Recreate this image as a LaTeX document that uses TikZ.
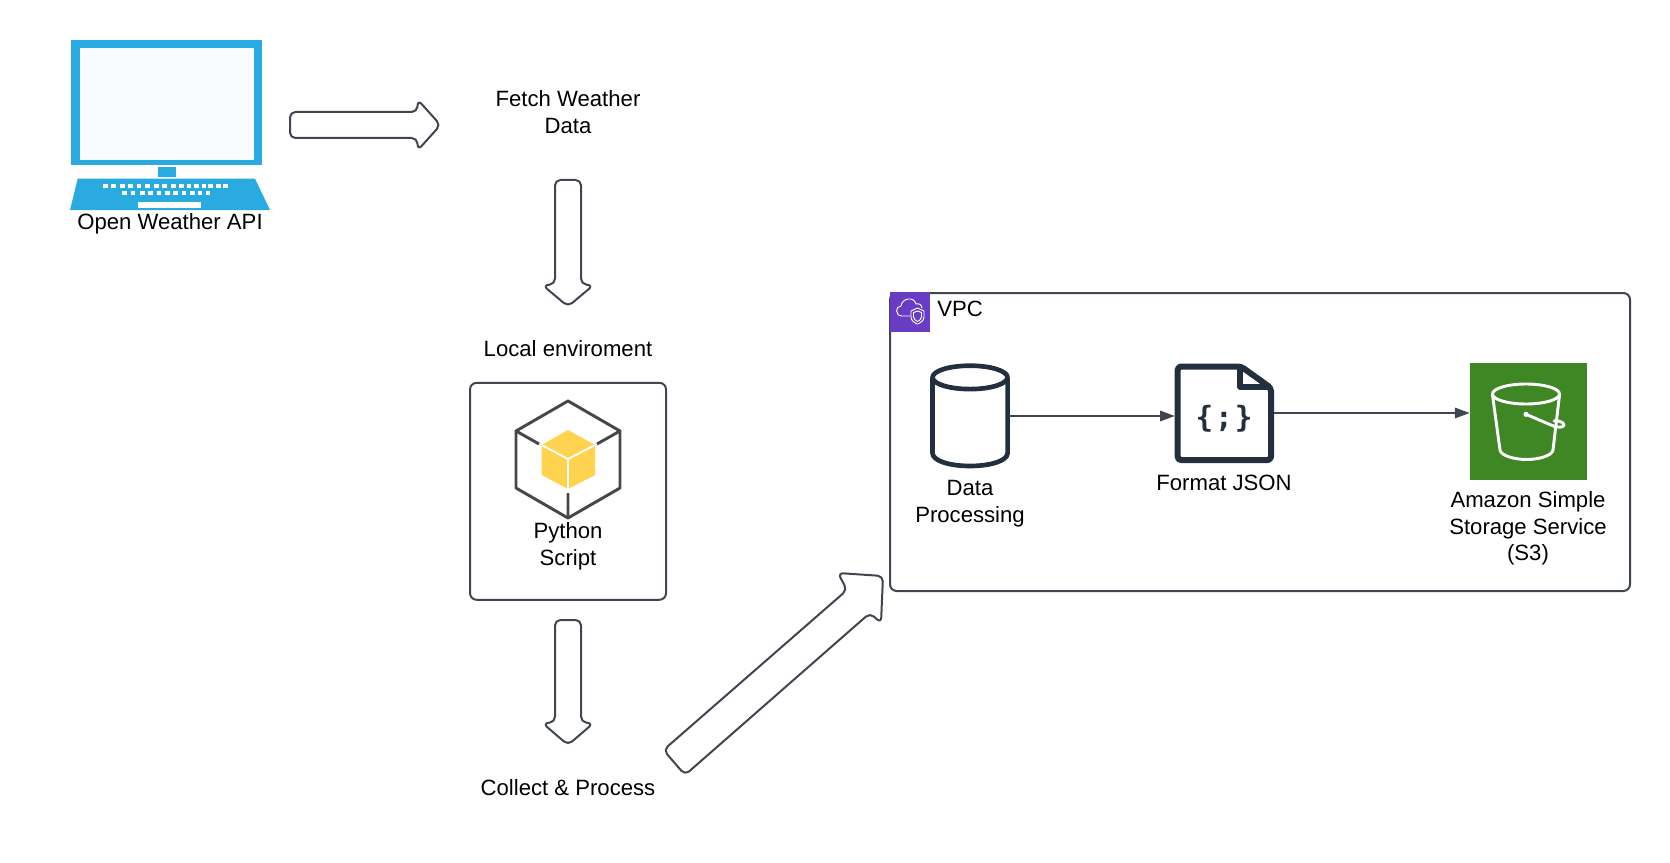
\documentclass[tikz,border=0pt]{standalone}
\usepackage{fontspec}
\setmainfont{Liberation Sans}
\newfontfamily\codefont{DejaVu Sans Mono}
\usetikzlibrary{arrows.meta}
\definecolor{lapblue}{HTML}{29ABE2}
\definecolor{screenfill}{HTML}{F8FCFF}
\definecolor{edgegrey}{HTML}{3F4650}
\definecolor{cubegrey}{HTML}{474747}
\definecolor{cubeyellow}{HTML}{FFD34F}
\definecolor{vpcpurple}{HTML}{693CC5}
\definecolor{awsnavy}{HTML}{232F3E}
\definecolor{sthreegreen}{HTML}{3F8624}
\tikzset{
    lbl/.style={inner sep=0.75pt,align=center,font=\fontsize{16.6}{20}\selectfont},
    blockarrow/.style={draw=edgegrey,line width=1.5pt,fill=white,rounded corners=4pt,line join=round},
    framebox/.style={draw=edgegrey,line width=1.5pt,rounded corners=5pt},
    conn/.style={draw=edgegrey,line width=0.8pt,-{Triangle[length=11pt,width=8pt]}},
    navyline/.style={draw=awsnavy,line width=3.5pt,line join=round},
    whiteline/.style={draw=white,line width=2.2pt,line join=round,line cap=round},
    thinwhite/.style={draw=white,line width=0.7pt,line join=round}
}
\begin{document}
\begin{tikzpicture}[x=0.75pt,y=0.75pt,yscale=-1,xscale=1]
    \useasboundingbox (0,0) rectangle (1670,863);

    %Shape: Laptop
    \fill [lapblue] (71,40) rectangle (262,165);
    \fill [screenfill] (80,47.7) rectangle (254,160);
    \fill [lapblue] (158,167) rectangle (176,177);
    \fill [lapblue] (77.7,178.7) -- (255,178.7) -- (270,210) -- (70,210) -- cycle;
    \foreach \keyx in {103,111,120,128.3,136.7,145,154,162,171,179,186.7,194,201.7,208.3,216,223.3}
        \fill [white] (\keyx,183.7) rectangle ++(4.7,4);
    \foreach \keyx in {122,130.7,140,148.3,156.7,165,173.3,181.7,190,197.7,205.7}
        \fill [white] (\keyx,191) rectangle ++(4.7,4);
    \fill [white] (138,202) rectangle (201,208);

    %Shape: Block arrows
    \draw [blockarrow] (290,112) -- (417,112) -- (418,100) -- (440.5,125) -- (418,150) -- (417,138) -- (290,138) -- cycle;
    \draw [blockarrow] (555,180) -- (581,180) -- (581,284) -- (593,285.5) -- (568,306.5) -- (543,285.5) -- (555,284) -- cycle;
    \draw [blockarrow] (555,620) -- (581,620) -- (581,722) -- (593,723.5) -- (568,745) -- (543,723.5) -- (555,722) -- cycle;
    \draw [blockarrow] (663.5,750) -- (847,590) -- (838,573) -- (883,576) -- (881,623) -- (870,613) -- (685,775) -- cycle;

    %Shape: Local box
    \node [framebox,inner sep=0pt,minimum width=147pt,minimum height=162.75pt] (localbox) at (568,491.3) {};

    %Shape: Python cube
    \draw [cubegrey,line width=2.2pt,line join=round] (568,401) -- (620,431) -- (620,488) -- (568,518) -- (516,488) -- (516,431) -- cycle;
    \draw [cubegrey,line width=2.2pt] (516,431) -- (539,444) (620,431) -- (597,444) (568,518) -- (568,493);
    \fill [cubeyellow] (568,430) -- (595,445) -- (595,475) -- (568,489) -- (541.7,475) -- (541.7,445) -- cycle;
    \draw [white,line width=1.4pt] (541.7,445) -- (568,459) -- (595,445) (568,459) -- (568,489);

    %Shape: VPC group
    \node [framebox,inner sep=0pt,minimum width=555pt,minimum height=223.5pt] (vpcbox) at (1260,442) {};
    \fill [vpcpurple] (890,291.7) rectangle (930,331.7);
    \draw [thinwhite] (910.7,316) -- (902,316) .. controls (895,316) and (895,306) .. (901,306) .. controls (902,298) and (914,296) .. (916,304) .. controls (919,303) and (922,305) .. (922,308);
    \draw [thinwhite,fill=vpcpurple] (917.5,308) -- (911,311) -- (911,317) .. controls (911,321) and (915,323) .. (917.5,324) .. controls (920,323) and (924,321) .. (924,317) -- (924,311) -- cycle;
    \draw [thinwhite] (917.5,311) -- (913.5,312.5) -- (913.5,317) .. controls (913.5,319) and (916,321) .. (917.5,321.5) .. controls (919,321) and (921.5,319) .. (921.5,317) -- (921.5,312.5) -- cycle;

    %Shape: Data cylinder
    \node [inner sep=0pt,minimum width=58.5pt,minimum height=78pt] (dataproc) at (970,416) {};
    \draw [navyline] (970,377.4) ellipse [x radius=37.5,y radius=11.7];
    \draw [navyline] (932.5,377.4) -- (932.5,453) .. controls (932.5,461) and (950,466) .. (970,466) .. controls (990,466) and (1007.6,461) .. (1007.6,453) -- (1007.6,377.4);

    %Shape: JSON file
    \node [inner sep=0pt,minimum width=74.25pt,minimum height=74.25pt] (jsonfile) at (1224.5,413) {};
    \draw [navyline,line width=4.5pt,rounded corners=2.5pt] (1241,366.5) -- (1177.7,366.5) -- (1177.7,460) -- (1271,460) -- (1271,388) -- cycle;
    \draw [navyline,line width=4pt] (1240,366.5) -- (1240,387) -- (1271,387);
    \node [inner sep=0pt,text=awsnavy,font=\codefont\bfseries\fontsize{22}{26}\selectfont] (jsoncode) at (1224,418.5) {\{\hspace{1.5pt};\hspace{1.5pt}\}};

    %Shape: S3 bucket
    \node [fill=sthreegreen,inner sep=0pt,minimum width=87.75pt,minimum height=87.75pt] (sthree) at (1528.3,421.6) {};
    \draw [whiteline] (1526,394) ellipse [x radius=33.5,y radius=10];
    \draw [whiteline] (1492.5,395) -- (1500,450) .. controls (1501,456) and (1515,459.5) .. (1526.7,459.5) .. controls (1538,459.5) and (1552,456) .. (1553,450) -- (1559.5,395);
    \fill [white] (1526,414.3) circle [radius=2.6];
    \draw [whiteline] (1526,414.3) -- (1551,425) .. controls (1556,428) and (1565,428) .. (1564,424.5) .. controls (1563,421.5) and (1556,420) .. (1554,421);

    % Connectors
    \draw [conn] (dataproc.east) -- (dataproc.east -| jsonfile.west);
    \draw [conn] (jsonfile.east) -- (jsonfile.east -| sthree.west);

    % Text Node
    \node [lbl] (apilabel) at (170,224) {Open Weather API};
    % Text Node
    \node [lbl] (fetchlabel) at (568,112) {Fetch Weather\\Data};
    % Text Node
    \node [lbl] (envlabel) at (568,349) {Local enviroment};
    % Text Node
    \node [lbl] (pylabel) at (568,546) {Python\\Script};
    % Text Node
    \node [lbl] (collectlabel) at (568,788) {Collect \& Process};
    % Text Node
    \node [lbl,anchor=west] (vpclabel) at (936,309) {VPC};
    % Text Node
    \node [lbl] (datalabel) at (970,503.5) {Data\\Processing};
    % Text Node
    \node [lbl] (jsonlabel) at (1224,482.7) {Format JSON};
    % Text Node
    \node [lbl] (sthreelabel) at (1528,528.5) {Amazon Simple\\Storage Service\\(S3)};
\end{tikzpicture}
\end{document}
